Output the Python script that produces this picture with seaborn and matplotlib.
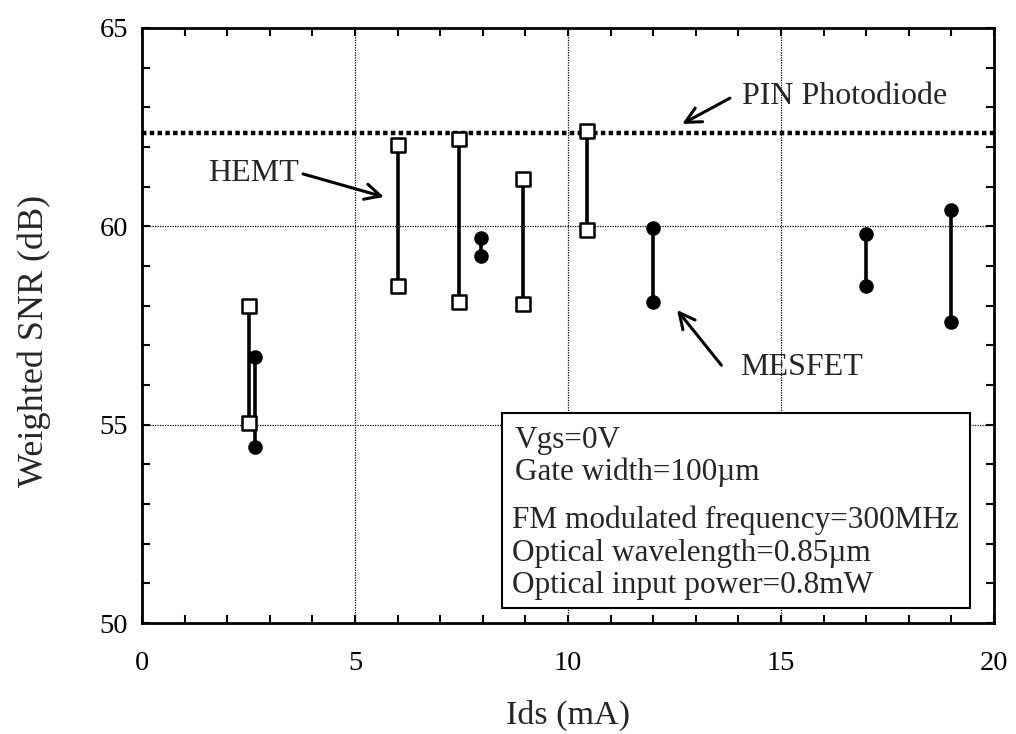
import numpy as np
import pandas as pd
import matplotlib
matplotlib.use("Agg")
import matplotlib.pyplot as plt
from matplotlib.patches import Rectangle
from matplotlib.ticker import MultipleLocator
import seaborn as sns

# values
hemt_ids = [2.5, 6.0, 7.45, 8.95, 10.45]
hemt_hi = [58.0, 62.05, 62.2, 61.2, 62.4]
hemt_lo = [55.05, 58.5, 58.1, 58.05, 59.9]

mesfet_ids = [2.65, 7.95, 12.0, 17.0, 19.0]
mesfet_hi = [56.7, 59.7, 59.95, 59.8, 60.4]
mesfet_lo = [54.45, 59.25, 58.1, 58.5, 57.6]

pin_snr = 62.35

info_lines = ["Vgs=0V", "Gate width=100\u00b5m",
              "FM modulated frequency=300MHz",
              "Optical wavelength=0.85\u00b5m",
              "Optical input power=0.8mW"]


def long_table(device, ids, hi, lo):
    rows = []
    for i, (x, a, b) in enumerate(zip(ids, hi, lo)):
        rows.append({"device": device, "pair": f"{device}{i}", "ids": x, "snr": a})
        rows.append({"device": device, "pair": f"{device}{i}", "ids": x, "snr": b})
    return pd.DataFrame(rows)


def main():
    sns.set_style("ticks")
    plt.rcParams['font.family'] = ['Liberation Serif', 'DejaVu Serif']

    df = pd.concat([long_table("HEMT", hemt_ids, hemt_hi, hemt_lo),
                    long_table("MESFET", mesfet_ids, mesfet_hi, mesfet_lo)],
                   ignore_index=True)

    fig = plt.figure(figsize=(10.16, 7.34), dpi=100)
    ax = fig.add_axes([0.1398, 0.151, 0.8386, 0.811])

    # grid
    for gx in [5, 10, 15]:
        ax.axvline(gx, color="black", lw=0.9, ls=(0, (1, 1)), zorder=1)
    for gy in [55, 60]:
        ax.axhline(gy, color="black", lw=0.9, ls=(0, (1, 1)), zorder=1)

    # PIN photodiode reference
    ax.axhline(pin_snr, color="black", lw=3.2, ls=(0, (1, 0.75)), zorder=2)

    # vertical ranges
    sns.lineplot(data=df, x="ids", y="snr", units="pair", estimator=None,
                 color="black", lw=2.6, sort=False, legend=False, ax=ax, zorder=3)

    hemt = df[df.device == "HEMT"]
    mesfet = df[df.device == "MESFET"]
    sns.scatterplot(data=hemt, x="ids", y="snr", marker="s", s=95,
                    facecolor="white", edgecolor="black", linewidth=1.8,
                    legend=False, ax=ax, zorder=4)
    sns.scatterplot(data=mesfet, x="ids", y="snr", marker="o", s=110,
                    color="black", edgecolor="black", linewidth=0,
                    legend=False, ax=ax, zorder=4)

    ax.set_xlim(0, 20)
    ax.set_ylim(50, 65)
    ax.xaxis.set_major_locator(MultipleLocator(5))
    ax.xaxis.set_minor_locator(MultipleLocator(1))
    ax.yaxis.set_major_locator(MultipleLocator(5))
    ax.yaxis.set_minor_locator(MultipleLocator(1))
    ax.tick_params(which="both", direction="in", top=True, right=True,
                   width=1.5, length=6, labelsize=20.5, colors="black")
    ax.tick_params(axis="x", which="major", pad=20)
    ax.tick_params(axis="y", which="major", pad=10)
    for sp in ax.spines.values():
        sp.set_linewidth(2)
        sp.set_color("black")

    ax.set_xlabel("Ids (mA)", fontsize=24.5, labelpad=17)
    ax.set_ylabel("Weighted SNR (dB)", fontsize=26)
    ax.yaxis.set_label_coords(-0.107, 0.474)

    # annotations
    arrow = dict(arrowstyle="->", lw=2.2, color="black", mutation_scale=28,
                 shrinkA=0, shrinkB=0)
    ax.annotate("", xy=(12.68, 62.58), xytext=(13.8, 63.23), arrowprops=arrow)
    ax.text(14.08, 63.26, "PIN Photodiode", fontsize=23, va="center", ha="left")
    ax.annotate("", xy=(5.68, 60.74), xytext=(3.78, 61.32), arrowprops=arrow)
    ax.text(1.55, 61.34, "HEMT", fontsize=23, va="center", ha="left")
    ax.annotate("", xy=(12.56, 57.89), xytext=(13.6, 56.5), arrowprops=arrow)
    ax.text(14.04, 56.43, "MESFET", fontsize=23, va="center", ha="left")

    # condition box
    ax.add_patch(Rectangle((0.4225, 0.0252), 0.5495, 0.328, transform=ax.transAxes,
                           facecolor="white", edgecolor="black", lw=1.5, zorder=5))
    line_y = [0.3076, 0.2538, 0.1731, 0.1176, 0.0639]
    line_x = [0.4378, 0.4378, 0.434, 0.434, 0.434]
    for txt, tx, ty in zip(info_lines, line_x, line_y):
        ax.text(tx, ty, txt, transform=ax.transAxes, fontsize=22.5,
                va="center", ha="left", zorder=6)

    fig.savefig("out.png", dpi=100)


if __name__ == "__main__":
    main()
